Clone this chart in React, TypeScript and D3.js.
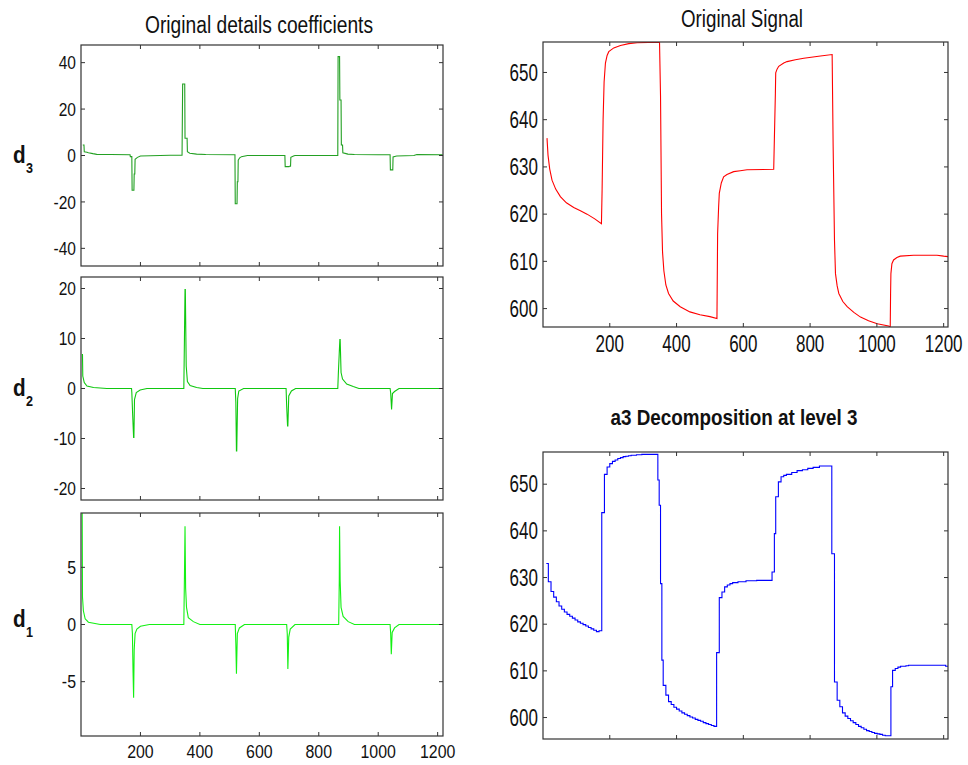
import React from "react";
import * as d3 from "d3";

type Pt = [number, number];

// Tick values
const sampleTicks = [200, 400, 600, 800, 1000, 1200];
const d3Ticks = [-40, -20, 0, 20, 40];
const d2Ticks = [-20, -10, 0, 10, 20];
const d1Ticks = [-5, 0, 5];
const levelTicks = [600, 610, 620, 630, 640, 650];

// Original signal: [sample index, value]
const signalPts: Pt[] = [
  [12, 636.1], [15, 632.5], [20, 629.6], [27, 627.2], [38, 625.3], [52, 623.7],
  [70, 622.4], [92, 621.4], [112, 620.7], [132, 620.0], [155, 619.0], [175, 618.0],
  [177, 625.0], [180, 640.0], [183, 648.0], [187, 652.0], [192, 653.6], [197, 654.4],
  [212, 655.2], [232, 655.7], [257, 656.1], [282, 656.3], [349, 656.4], [352, 645.0],
  [355, 620.2], [358, 612.0], [362, 608.0], [368, 605.0], [376, 603.2], [390, 601.6],
  [411, 600.4], [440, 599.3], [470, 598.7], [500, 598.3], [521, 597.9], [523, 615.9],
  [526, 621.5], [528, 624.4], [534, 626.6], [541, 627.9], [551, 628.4], [571, 629.0],
  [591, 629.2], [611, 629.4], [691, 629.5], [693, 636.0], [696, 645.6], [697, 649.9],
  [701, 650.7], [706, 651.3], [721, 652.0], [731, 652.3], [756, 652.7], [781, 653.0],
  [831, 653.5], [866, 653.8], [869, 634.3], [873, 614.5], [876, 607.4], [881, 604.8],
  [886, 603.2], [898, 601.5], [911, 600.4], [931, 599.2], [951, 598.2], [975, 597.4],
  [1001, 596.8], [1035, 596.3], [1040, 596.1], [1041, 603.0], [1042, 607.4], [1045, 609.5],
  [1050, 610.3], [1060, 610.8], [1070, 611.1], [1110, 611.3], [1180, 611.3], [1200, 611.1],
  [1213, 611.0],
];

// Level-3 approximation: piecewise-constant, [start sample, value]
const approxPts: Pt[] = [
  [10, 633.0], [16, 629.1], [24, 627.0], [32, 625.8], [40, 624.8], [48, 623.9],
  [56, 623.2], [64, 622.6], [72, 622.1], [80, 621.7], [88, 621.3], [96, 620.9],
  [104, 620.5], [112, 620.2], [120, 619.9], [128, 619.6], [136, 619.3], [144, 619.0],
  [152, 618.7], [160, 618.4], [168, 618.6], [176, 643.9], [184, 652.1], [192, 653.7],
  [200, 654.4], [208, 654.9], [216, 655.2], [224, 655.5], [232, 655.7], [240, 655.9],
  [248, 656.0], [256, 656.1], [264, 656.2], [280, 656.3], [296, 656.4], [344, 650.9],
  [348, 645.5], [352, 628.7], [356, 612.3], [360, 606.9], [368, 604.8], [376, 603.4],
  [384, 602.8], [392, 602.2], [400, 601.8], [408, 601.4], [416, 601.0], [424, 600.7],
  [432, 600.4], [440, 600.1], [448, 599.9], [456, 599.6], [464, 599.4], [472, 599.2],
  [480, 598.9], [488, 598.7], [496, 598.5], [504, 598.3], [512, 598.1], [520, 613.9],
  [528, 625.7], [536, 626.9], [544, 628.0], [552, 628.4], [560, 628.7], [568, 628.9],
  [584, 629.1], [608, 629.3], [640, 629.4], [686, 631.2], [693, 639.4], [697, 647.3],
  [705, 650.5], [713, 651.6], [721, 651.9], [729, 652.1], [745, 652.5], [761, 652.9],
  [777, 653.1], [793, 653.4], [809, 653.6], [828, 653.9], [865, 635.1], [873, 607.6],
  [881, 603.7], [889, 602.3], [897, 601.0], [905, 600.3], [913, 599.8], [921, 599.3],
  [929, 598.9], [937, 598.5], [945, 598.1], [953, 597.8], [961, 597.5], [969, 597.2],
  [977, 597.0], [985, 596.8], [993, 596.6], [1001, 596.5], [1009, 596.4], [1017, 596.2],
  [1025, 596.1], [1042, 606.6], [1047, 610.1], [1055, 610.5], [1063, 610.8], [1071, 611.0],
  [1087, 611.1], [1095, 611.2], [1206, 611.0], [1213, 611.0],
];

// Detail coefficients, level 3
const d3Pts: Pt[] = [
  [6, 4.5], [10, 4.5], [11, 1.6], [20, 1.4], [25, 1.2], [40, 0.8], [53, 0.5], [100, 0.4],
  [165, 0.3], [166, -0.5], [171, -0.5], [172, -15.0], [178, -15.0], [179, -8.0], [181, -8.0],
  [182, -1.6], [190, -0.8], [200, -0.2], [300, 0.1], [340, 0.1], [341, 15.3], [342, 30.8],
  [349, 30.8], [350, 7.4], [357, 7.4], [358, 1.6], [366, 1.0], [389, 0.6], [420, 0.4],
  [518, 0.3], [519, -20.8], [525, -20.8], [526, -11.3], [528, -11.3], [529, -2.0], [534, -1.0],
  [540, -0.5], [560, 0.0], [686, 0.0], [687, -4.8], [700, -4.8], [701, -4.6], [705, -4.6],
  [706, -0.8], [715, -0.2], [720, 0.0], [864, 0.0], [865, 42.6], [870, 42.6], [871, 23.9],
  [875, 23.9], [876, 4.5], [880, 4.5], [881, 1.2], [898, 0.6], [920, 0.4], [1000, 0.3],
  [1040, 0.3], [1041, -6.2], [1049, -6.2], [1050, -0.6], [1062, -0.2], [1120, 0.0],
  [1130, 0.4], [1217, 0.3],
];

// Detail coefficients, level 2
const d2Pts: Pt[] = [
  [3, 6.8], [5, 6.8], [6, 2.5], [11, 1.2], [20, 0.5], [42, 0.2], [87, 0.0], [170, 0.0],
  [171, -0.8], [174, -5.5], [177, -9.8], [178, -9.8], [180, -2.2], [186, -0.8], [199, -0.3],
  [222, 0.0], [346, 0.0], [348, 9.8], [350, 19.8], [351, 19.8], [354, 4.5], [358, 1.4],
  [367, 0.6], [389, 0.2], [410, 0.0], [519, 0.0], [521, -2.8], [523, -12.5], [524, -12.5],
  [527, -2.0], [531, -0.5], [547, 0.0], [690, 0.0], [692, -3.5], [695, -7.5], [696, -7.5],
  [699, -1.5], [708, -0.5], [722, 0.0], [864, 0.0], [866, 3.2], [869, 7.2], [871, 9.8],
  [872, 9.8], [875, 3.2], [880, 1.9], [894, 0.9], [916, 0.4], [935, 0.0], [1040, 0.0],
  [1042, -0.9], [1045, -4.2], [1048, -1.0], [1055, -0.6], [1070, 0.0], [1218, 0.0],
];

// Detail coefficients, level 1
const d1Pts: Pt[] = [
  [3, 9.7], [4, 9.7], [5, 2.4], [8, 1.2], [14, 0.5], [25, 0.2], [65, 0.0], [171, 0.0],
  [173, -0.8], [175, -4.0], [177, -6.4], [179, -2.2], [182, -0.8], [188, -0.4], [200, -0.15],
  [230, 0.0], [346, 0.0], [348, 4.1], [350, 8.6], [352, 3.2], [355, 1.5], [361, 0.6],
  [378, 0.25], [400, 0.0], [519, 0.0], [521, -1.7], [523, -4.3], [526, -0.8], [533, -0.3],
  [550, 0.0], [692, 0.0], [694, -0.8], [696, -3.9], [699, -1.1], [704, -0.4], [720, 0.0],
  [867, 0.0], [869, 3.8], [870, 8.6], [872, 3.8], [875, 1.5], [882, 0.7], [899, 0.25],
  [920, 0.0], [1040, 0.0], [1042, -0.8], [1044, -2.6], [1047, -0.7], [1055, -0.3],
  [1070, 0.0], [1218, 0.0],
];

const FONT = "'Liberation Sans', Arial, Helvetica, sans-serif";
const FRAME = "#333333";

interface PanelProps {
  id: string;
  box: { l: number; r: number; t: number; b: number };
  xDomain: [number, number];
  yDomain: [number, number];
  yTicks: number[];
  pts: Pt[];
  color: string;
  stepped?: boolean;
  xLabels?: boolean;
  fontSize: number;
  squeeze: number;
  xLabelBaseline?: number;
}

function Panel(p: PanelProps) {
  const { box } = p;
  const x = d3.scaleLinear().domain(p.xDomain).range([box.l, box.r]);
  const y = d3.scaleLinear().domain(p.yDomain).range([box.b, box.t]);
  const line = d3
    .line<Pt>()
    .x((d) => x(d[0]))
    .y((d) => y(d[1]))
    .curve(p.stepped ? d3.curveStepAfter : d3.curveLinear);
  const tl = 4;
  return (
    <g>
      <defs>
        <clipPath id={p.id}>
          <rect x={box.l} y={box.t} width={box.r - box.l} height={box.b - box.t} />
        </clipPath>
      </defs>
      <path
        d={line(p.pts) ?? ""}
        fill="none"
        stroke={p.color}
        strokeWidth={1.1}
        clipPath={`url(#${p.id})`}
      />
      <rect
        x={box.l}
        y={box.t}
        width={box.r - box.l}
        height={box.b - box.t}
        fill="none"
        stroke={FRAME}
        strokeWidth={1.2}
      />
      {sampleTicks.map((v) => (
        <g key={`xt${v}`} stroke={FRAME} strokeWidth={1}>
          <line x1={x(v)} x2={x(v)} y1={box.b} y2={box.b - tl} />
          <line x1={x(v)} x2={x(v)} y1={box.t} y2={box.t + tl} />
        </g>
      ))}
      {p.yTicks.map((v) => (
        <g key={`yt${v}`} stroke={FRAME} strokeWidth={1}>
          <line x1={box.l} x2={box.l + tl} y1={y(v)} y2={y(v)} />
          <line x1={box.r} x2={box.r - tl} y1={y(v)} y2={y(v)} />
        </g>
      ))}
      {p.yTicks.map((v) => (
        <text
          key={`yl${v}`}
          transform={`translate(${box.l - 5},${y(v)}) scale(${p.squeeze},1)`}
          dy="0.36em"
          textAnchor="end"
          fontFamily={FONT}
          fontSize={p.fontSize}
          fill="#111"
        >
          {String(v)}
        </text>
      ))}
      {p.xLabels &&
        sampleTicks.map((v) => (
          <text
            key={`xl${v}`}
            transform={`translate(${x(v)},${p.xLabelBaseline}) scale(${p.squeeze},1)`}
            textAnchor="middle"
            fontFamily={FONT}
            fontSize={p.fontSize}
            fill="#111"
          >
            {String(v)}
          </text>
        ))}
    </g>
  );
}

function LevelLabel({ level, baseline }: { level: number; baseline: number }) {
  return (
    <g fontFamily={FONT} fontWeight="bold" fill="#111">
      <text transform={`translate(13,${baseline}) scale(0.9,1)`} fontSize={23}>
        d
      </text>
      <text transform={`translate(26,${baseline + 10}) scale(0.9,1)`} fontSize={14}>
        {String(level)}
      </text>
    </g>
  );
}

export default function App() {
  const leftX: [number, number] = [0, 1218];
  const rightX: [number, number] = [0, 1213];
  return (
    <svg
      width={968}
      height={765}
      viewBox="0 0 968 765"
      style={{ position: "absolute", left: 0, top: 0, background: "#fff" }}
    >
      <rect x={0} y={0} width={968} height={765} fill="#fff" />

      <text
        x={259}
        y={33}
        textAnchor="middle"
        fontFamily={FONT}
        fontSize={23}
        textLength={228}
        lengthAdjust="spacingAndGlyphs"
        fill="#111"
      >
        Original details coefficients
      </text>
      <text
        x={742}
        y={26.5}
        textAnchor="middle"
        fontFamily={FONT}
        fontSize={23}
        textLength={122}
        lengthAdjust="spacingAndGlyphs"
        fill="#111"
      >
        Original Signal
      </text>
      <text
        x={734}
        y={425}
        textAnchor="middle"
        fontFamily={FONT}
        fontWeight="bold"
        fontSize={22}
        textLength={247}
        lengthAdjust="spacingAndGlyphs"
        fill="#111"
      >
        a3 Decomposition at level 3
      </text>

      <Panel
        id="clip-d3"
        box={{ l: 81, r: 443, t: 45, b: 266 }}
        xDomain={leftX}
        yDomain={[-47.6, 47.6]}
        yTicks={d3Ticks}
        pts={d3Pts}
        color="#23a023"
        fontSize={18.5}
        squeeze={0.84}
      />
      <Panel
        id="clip-d2"
        box={{ l: 81, r: 443, t: 277, b: 500 }}
        xDomain={leftX}
        yDomain={[-22.3, 22.3]}
        yTicks={d2Ticks}
        pts={d2Pts}
        color="#0fc80f"
        fontSize={18.5}
        squeeze={0.84}
      />
      <Panel
        id="clip-d1"
        box={{ l: 81, r: 443, t: 513, b: 736 }}
        xDomain={leftX}
        yDomain={[-9.75, 9.75]}
        yTicks={d1Ticks}
        pts={d1Pts}
        color="#14f014"
        fontSize={18.5}
        squeeze={0.86}
        xLabels
        xLabelBaseline={758}
      />
      <Panel
        id="clip-sig"
        box={{ l: 543, r: 948, t: 42, b: 327 }}
        xDomain={rightX}
        yDomain={[596.1, 656.45]}
        yTicks={levelTicks}
        pts={signalPts}
        color="#ff0000"
        fontSize={23}
        squeeze={0.74}
        xLabels
        xLabelBaseline={351.5}
      />
      <Panel
        id="clip-a3"
        box={{ l: 543, r: 948, t: 452, b: 739 }}
        xDomain={rightX}
        yDomain={[595.4, 656.9]}
        yTicks={levelTicks}
        pts={approxPts}
        color="#0000ff"
        stepped
        fontSize={23}
        squeeze={0.74}
      />

      <LevelLabel level={3} baseline={163} />
      <LevelLabel level={2} baseline={396} />
      <LevelLabel level={1} baseline={627} />
    </svg>
  );
}
